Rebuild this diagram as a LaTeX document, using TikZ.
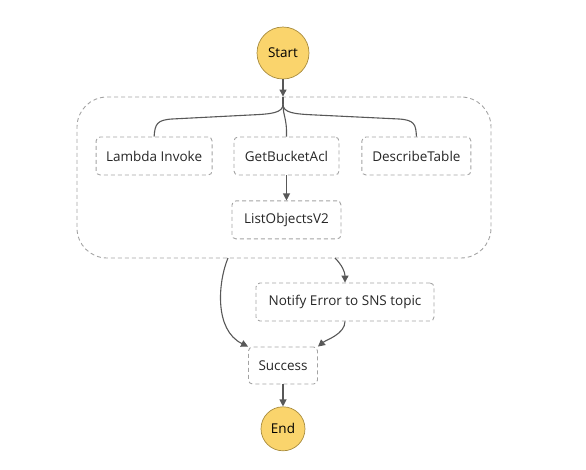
\documentclass[tikz,border=0pt]{standalone}
\usepackage{fontspec}
\setmainfont{Open Sans}
\usetikzlibrary{
    arrows.meta,
    calc,
    positioning,
}
\definecolor{stateyellow}{HTML}{FAD46C}
\definecolor{stateedge}{HTML}{A88C3E}
\definecolor{boxgray}{HTML}{A3A3A3}
\definecolor{linegray}{HTML}{585858}
\tikzstyle{arrow}=[-{Triangle[length=7pt, width=7pt]}]
\tikzset{
    every picture/.style={line width=1.1pt},
    terminal/.style={circle, draw=stateedge, line width=0.7pt, fill=stateyellow, inner sep=0pt},
    task/.style={draw=boxgray, dash pattern=on 4pt off 3pt, line width=0.9pt, rounded corners=4pt, minimum height=38pt, inner xsep=10pt, text=black!85},
    conn/.style={draw=linegray},
}

\begin{document}
\begin{tikzpicture}[x=1pt, y=-1pt, font=\fontsize{13.5}{16}\selectfont]
            \useasboundingbox (0,0) rectangle (586,469);
            \node[terminal, minimum size=52pt] (start) at (283,53) {Start};
            \node[task, draw=boxgray, rounded corners=30pt, minimum width=414pt, minimum height=161pt] (par) at (284,177.5) {};
            \node[task, minimum width=105pt] (getacl) at (286.5,156) {GetBucketAcl};
            \node[task, minimum width=116pt, left=21pt of getacl] (lambdainv) {Lambda Invoke};
            \node[task, minimum width=109pt, right=22pt of getacl] (desctable) {DescribeTable};
            \node[task, minimum width=109pt, below=25pt of getacl] (listobj) {ListObjectsV2};
            \node[task, minimum width=178pt] (notifyerr) at (345,302) {Notify Error to SNS topic};
            \node[task, minimum width=68pt, minimum height=37pt] (success) at (283,365.5) {Success};
            \node[terminal, minimum size=44pt, below=22pt of success] (stop) {End};
            \coordinate (fork) at (283,104);
            \coordinate (parleft) at (228,258);
            \coordinate (parright) at (335,258);
            % start into the parallel state
            \draw[conn, arrow] (start) -- (start |- par.north);
            \draw[conn] (start |- par.north) -- (fork);
            % branches
            \draw[conn] (fork) .. controls (283,113) and (272,114) .. (250,115) -- (172,119) .. controls (157,120) and (155,124) .. (lambdainv.north);
            \draw[conn] (fork) .. controls (283,116) and (287,118) .. (getacl.north);
            \draw[conn] (fork) .. controls (283,113) and (294,114) .. (316,115) -- (399,119) .. controls (414,120) and (416,124) .. (desctable.north);
            \draw[conn, arrow] (getacl) -- (listobj);
            % out of the parallel state
            \draw[conn, arrow] (parleft) .. controls (218,282) and (214,330) .. (success.north west);
            \draw[conn, arrow] (parright) .. controls (342,265) and (345,272) .. (notifyerr.north);
            \draw[conn, arrow] (notifyerr.south) .. controls (345,334) and (326,340) .. (success.north east);
            \draw[conn, arrow] (success) -- (stop);
        \end{tikzpicture}
\end{document}
